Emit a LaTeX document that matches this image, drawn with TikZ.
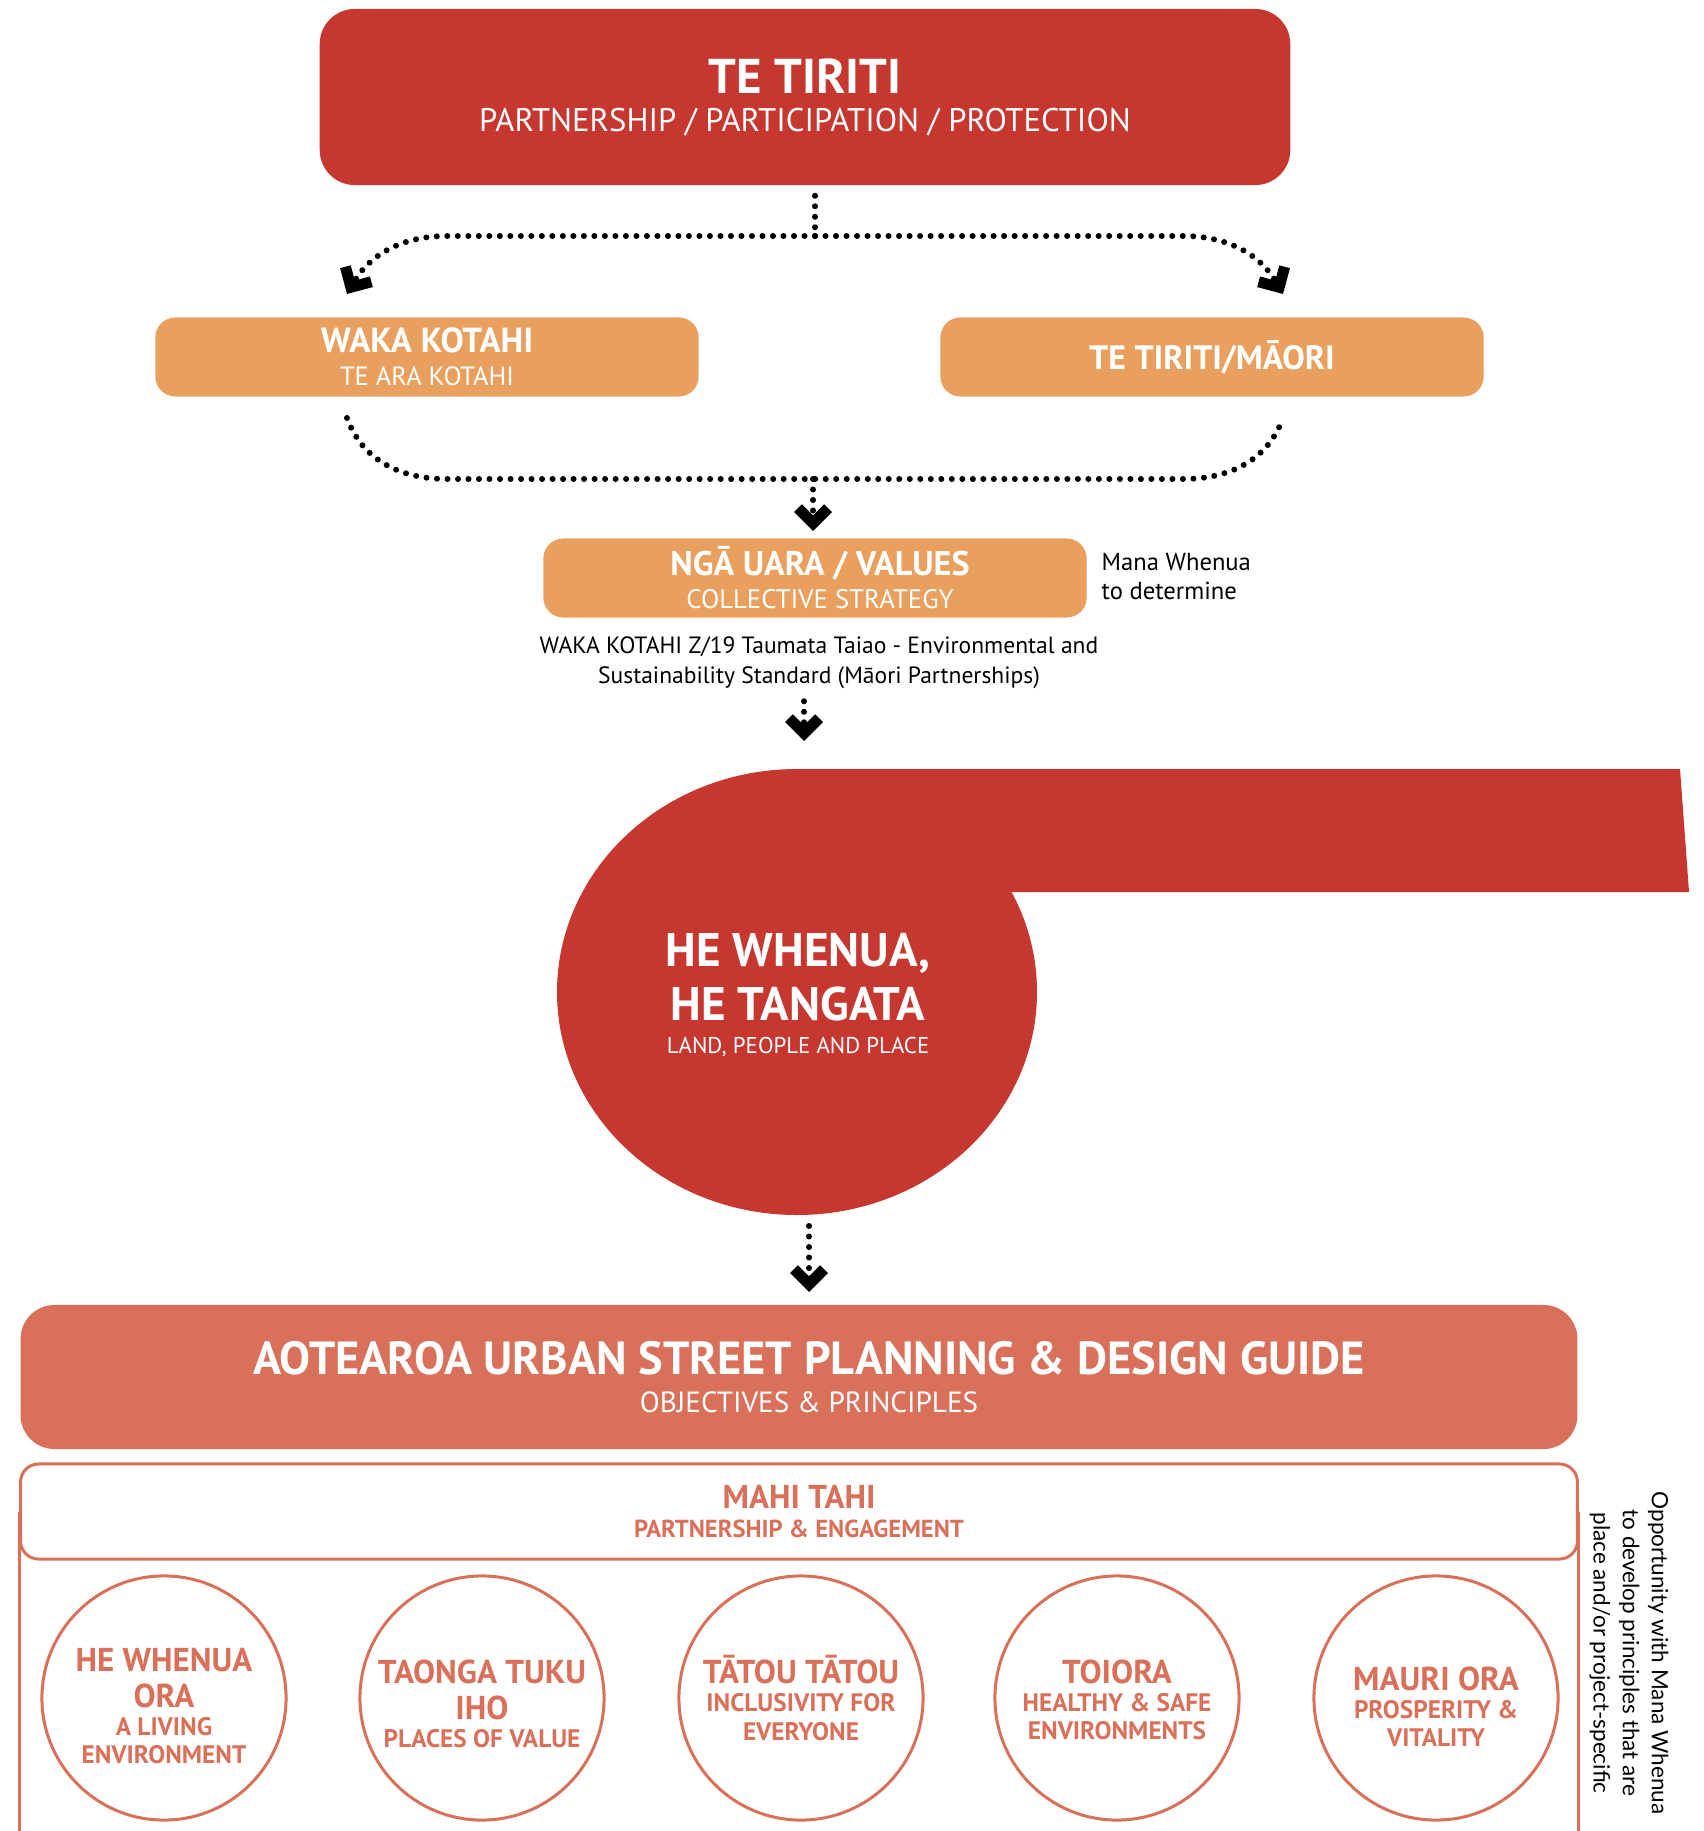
\documentclass[tikz,border=0pt]{standalone}
\usepackage{fontspec}
\setmainfont{PT Sans}
\newfontfamily\notefont{Lato}
\usetikzlibrary{arrows.meta}

\definecolor{tiritired}{RGB}{198,55,47}
\definecolor{kotahiorange}{RGB}{233,160,94}
\definecolor{guidesalmon}{RGB}{216,112,90}
\newcommand{\fsz}[2]{\fontsize{#1}{#2}\selectfont}
\newcommand{\circtitle}[1]{{\fsz{9.4}{8}#1}}

\begin{document}
\begin{tikzpicture}[x=0.01cm, y=0.01cm,
		dotline/.style={line width=0.6mm, line cap=round, dash pattern=on 0pt off 1.05mm},
		chevron/.tip={Straight Barb[length=1.5mm, width=3mm, line width=1.1mm, sharp]},
		tiritibox/.style={fill=tiritired, text=white, rounded corners=3.5mm, align=center, inner sep=0pt},
		kotahibox/.style={fill=kotahiorange, text=white, rounded corners=2mm, align=center, inner sep=0pt, minimum width=54.3mm, minimum height=7.9mm},
		guidebox/.style={fill=guidesalmon, text=white, rounded corners=3.4mm, align=center, inner sep=0pt, minimum width=155.6mm},
		outline/.style={draw=guidesalmon, line width=0.3mm},
		valuecircle/.style={outline, circle, minimum size=24.4mm, inner sep=0pt},
		valuetext/.style={align=center, inner sep=0pt, text=guidesalmon, font=\bfseries\fsz{7.2}{8}}]

	\useasboundingbox (0,0) rectangle (1703,-1831);

	% top of the framework
	\node[tiritibox, minimum width=97mm, minimum height=17.6mm, font=\fsz{9.3}{10.8}] (tiriti) at (805,-97) {{\bfseries\fsz{13.9}{10.8}TE TIRITI}\\PARTNERSHIP / PARTICIPATION / PROTECTION};

	\node[kotahibox, font=\fsz{7.5}{9.4}] (waka) at (427,-357) {{\bfseries\fsz{9.9}{9.4}WAKA KOTAHI}\\TE ARA KOTAHI};
	\node[kotahibox, font=\bfseries\fsz{9.6}{9.4}] (maori) at (1212,-357) {TE TIRITI/MĀORI};
	\node[kotahibox, font=\fsz{7.6}{9.4}] (uara) at (815,-578) {{\bfseries\fsz{9.7}{9.4}\hspace*{1mm}NGĀ UARA / VALUES}\\\hspace*{1mm}COLLECTIVE STRATEGY};

	\node[anchor=north west, inner sep=0pt, align=left, font=\fsz{7}{8}] (mana) at (1101,-553) {Mana Whenua\\to determine};
	\node[anchor=north, inner sep=0pt, align=center, font=\fsz{6.7}{8.5}] (standard) at (819,-636) {WAKA KOTAHI Z/19 Taumata Taiao - Environmental and\\Sustainability Standard (Māori Partnerships)};

	% dotted connectors
	\coordinate (split) at (815,-236);
	\coordinate (wakain) at (347,-294);
	\coordinate (maoriin) at (1283,-294);
	\coordinate (wakaout) at (347,-418);
	\coordinate (maoriout) at (1283,-418);
	\coordinate (merge) at (813,-479);
	\coordinate (uarain) at (813,-531);
	\coordinate (whenuain) at (804,-741);
	\coordinate (blobout) at (809,-1226);
	\coordinate (guidein) at (809,-1292);

	\draw[dotline, shorten <=1mm] (split |- tiriti.south) -- (split);
	\draw[dotline, -chevron] (split) -- (447,-236) to[out=180, in=60] (wakain);
	\draw[dotline, -chevron] (split) -- (1183,-236) to[out=0, in=120] (maoriin);

	\draw[dotline] (wakaout) to[out=-70, in=180] (447,-479) -- (1183,-479) to[out=0, in=-110] (maoriout);
	\draw[dotline, -chevron] (merge) -- (uarain);
	\draw[dotline, -chevron, shorten <=1.2mm] (whenuain |- standard.south) -- (whenuain);

	% he whenua, he tangata
	\fill[tiritired] (797,-992) ellipse [x radius=240, y radius=223];
	\fill[tiritired] (797,-769) -- (1680,-769) -- (1689,-892) -- (797,-892) -- cycle;
	\node[text=white, align=center, inner sep=0pt, font=\fsz{6.5}{15.4}] (whenua) at (798,-995) {{\bfseries\fsz{13.4}{15.4}HE WHENUA,}\\{\bfseries\fsz{13.4}{15.4}HE TANGATA}\\[-6pt]LAND, PEOPLE AND PLACE};

	\draw[dotline, -chevron] (blobout) -- (guidein);

	% urban street guide
	\node[guidebox, minimum height=14.4mm, font=\fsz{8.3}{10.8}] (guide) at (799,-1377) {{\bfseries\fsz{13.2}{10.8}\hspace*{2mm}AOTEAROA URBAN STREET PLANNING \& DESIGN GUIDE}\\\hspace*{2mm}OBJECTIVES \& PRINCIPLES};

	\node[outline, rounded corners=1.8mm, minimum width=155.6mm, minimum height=9.5mm, inner sep=0pt, align=center, text=guidesalmon, font=\bfseries\fsz{7}{8.25}] (mahi) at (799,-1511.5) {{\fsz{9.4}{8.25}MAHI TAHI}\\PARTNERSHIP \& ENGAGEMENT};
	\draw[outline] (mahi.west) -- (mahi.west |- 0,-1831);
	\draw[outline] (mahi.east) -- (mahi.east |- 0,-1831);

	\node[valuecircle] (ora) at (164,-1698) {};
	\node[valuecircle] (taonga) at (482,-1698) {};
	\node[valuecircle] (tatou) at (801,-1698) {};
	\node[valuecircle] (toiora) at (1117,-1698) {};
	\node[valuecircle] (mauri) at (1436,-1698) {};

	\node[valuetext] (oratext) at ([yshift=-0.8mm]ora) {\circtitle{HE WHENUA}\\[2.3pt]\circtitle{ORA}\\A LIVING\\ENVIRONMENT};
	\node[valuetext] (taongatext) at ([yshift=-0.6mm]taonga) {\circtitle{TAONGA TUKU}\\[2.3pt]\circtitle{IHO}\\PLACES OF VALUE};
	\node[valuetext] (tatoutext) at (tatou) {\circtitle{TĀTOU TĀTOU}\\INCLUSIVITY FOR\\EVERYONE};
	\node[valuetext] (toioratext) at ([yshift=-0.2mm]toiora) {\circtitle{TOIORA}\\HEALTHY \& SAFE\\ENVIRONMENTS};
	\node[valuetext] (mauritext) at ([yshift=-0.9mm]mauri) {\circtitle{MAURI ORA}\\PROSPERITY \&\\VITALITY};

	\node[rotate=-90, align=center, inner sep=0pt, font=\notefont\fsz{6.4}{8.3}] (note) at (1629,-1653) {Opportunity with Mana Whenua\\to develop principles that are\\place and/or project-specific};
\end{tikzpicture}
\end{document}
